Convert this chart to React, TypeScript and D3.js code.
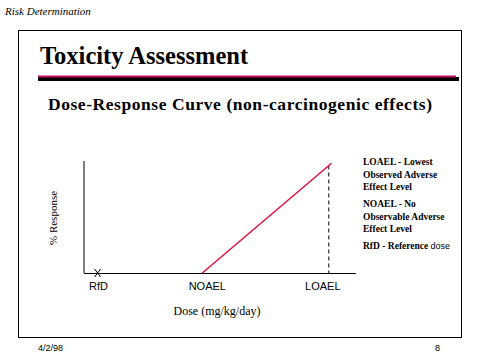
import React, { useEffect, useRef } from 'react';
import * as d3 from 'd3';

// dose markers on the x axis (arbitrary dose units)
const markerNames = ['RfD', 'NOAEL', 'LOAEL'];
const markerDoses = [0.5, 4.35, 9.0];

// dose-response line: dose and % response
const curveDoses = [4.35, 9.1];
const curveResponses = [0, 98];

const legendLines = [
  'LOAEL - Lowest',
  'Observed Adverse',
  'Effect Level',
  'NOAEL - No',
  'Observable Adverse',
  'Effect Level',
];

const W = 480;
const H = 360;

const App: React.FC = () => {
  const svgRef = useRef<SVGSVGElement | null>(null);

  useEffect(() => {
    const svg = d3.select(svgRef.current);
    svg.selectAll('*').remove();

    const serif = '"Liberation Serif", "Times New Roman", serif';
    const sans = '"Liberation Sans", Arial, sans-serif';

    svg.append('rect').attr('width', W).attr('height', H).attr('fill', '#fff');

    svg
      .append('text')
      .attr('x', 5)
      .attr('y', 15)
      .attr('font-family', serif)
      .attr('font-style', 'italic')
      .attr('font-size', 11)
      .text('Risk Determination');

    // slide frame
    svg
      .append('rect')
      .attr('x', 18.5)
      .attr('y', 30.5)
      .attr('width', 443)
      .attr('height', 307)
      .attr('fill', 'none')
      .attr('stroke', '#000')
      .attr('stroke-width', 1);

    svg
      .append('text')
      .attr('x', 40)
      .attr('y', 64)
      .attr('font-family', serif)
      .attr('font-weight', 'bold')
      .attr('font-size', 24.5)
      .text('Toxicity Assessment');

    svg.append('rect').attr('x', 38).attr('y', 77).attr('width', 421).attr('height', 4).attr('fill', '#000');
    svg.append('rect').attr('x', 38).attr('y', 75.5).attr('width', 418).attr('height', 2).attr('fill', '#c0105a');

    svg
      .append('text')
      .attr('x', 48)
      .attr('y', 110)
      .attr('font-family', serif)
      .attr('font-weight', 'bold')
      .attr('font-size', 17.5)
      .attr('textLength', 384)
      .attr('lengthAdjust', 'spacing')
      .text('Dose-Response Curve (non-carcinogenic effects)');

    // chart area
    const x = d3.scaleLinear().domain([0, 10]).range([84, 356]);
    const y = d3.scaleLinear().domain([0, 100]).range([273, 161]);

    const g = svg.append('g');

    g.append('line')
      .attr('x1', x(0)).attr('x2', x(0))
      .attr('y1', y(0)).attr('y2', y(100))
      .attr('stroke', '#000');
    g.append('line')
      .attr('x1', x(0)).attr('x2', x(10))
      .attr('y1', y(0) + 0.5).attr('y2', y(0) + 0.5)
      .attr('stroke', '#000');

    // dashed drop at LOAEL
    const loael = markerDoses[2];
    g.append('line')
      .attr('x1', x(loael)).attr('x2', x(loael))
      .attr('y1', y(96)).attr('y2', y(0))
      .attr('stroke', '#000')
      .attr('stroke-dasharray', '4,3');

    const pts = curveDoses.map((d, i) => [d, curveResponses[i]] as [number, number]);
    const line = d3
      .line<[number, number]>()
      .x(d => x(d[0]))
      .y(d => y(d[1]));
    g.append('path')
      .attr('d', line(pts))
      .attr('fill', 'none')
      .attr('stroke', '#e0103a')
      .attr('stroke-width', 1.5);

    // X marker at RfD
    const rx = x(markerDoses[0]);
    const ry = y(0);
    g.append('path')
      .attr('d', `M${rx - 3},${ry - 4}L${rx + 3},${ry + 4}M${rx + 3},${ry - 4}L${rx - 3},${ry + 4}`)
      .attr('stroke', '#000')
      .attr('fill', 'none');

    // label nudges, as in the original slide
    const labelNudge = [1, 5, -6];
    g.selectAll('text.tick')
      .data(markerNames)
      .enter()
      .append('text')
      .attr('class', 'tick')
      .attr('x', (_, i) => x(markerDoses[i]) + labelNudge[i])
      .attr('y', 290)
      .attr('text-anchor', 'middle')
      .attr('font-family', sans)
      .attr('font-size', 11)
      .text(d => d);

    g.append('text')
      .attr('x', 217)
      .attr('y', 315)
      .attr('text-anchor', 'middle')
      .attr('font-family', serif)
      .attr('font-size', 12)
      .text('Dose (mg/kg/day)');

    g.append('text')
      .attr('transform', `translate(57,218) rotate(-90)`)
      .attr('text-anchor', 'middle')
      .attr('font-family', serif)
      .attr('font-size', 11)
      .text('% Response');

    // legend notes
    const legendY = [165, 178, 190, 207, 220, 232];
    svg
      .selectAll('text.legend')
      .data(legendLines)
      .enter()
      .append('text')
      .attr('class', 'legend')
      .attr('x', 363)
      .attr('y', (_, i) => legendY[i])
      .attr('font-family', serif)
      .attr('font-weight', 'bold')
      .attr('font-size', 9.5)
      .text(d => d);

    const rfd = svg
      .append('text')
      .attr('x', 363)
      .attr('y', 249)
      .attr('font-family', serif)
      .attr('font-weight', 'bold')
      .attr('font-size', 9.5);
    rfd.append('tspan').text('RfD - Reference ');
    rfd.append('tspan').attr('font-family', sans).attr('font-weight', 'normal').attr('font-size', 9).text('dose');

    svg
      .append('text')
      .attr('x', 38)
      .attr('y', 351)
      .attr('font-family', sans)
      .attr('font-size', 9)
      .text('4/2/98');
    svg
      .append('text')
      .attr('x', 440)
      .attr('y', 351)
      .attr('text-anchor', 'end')
      .attr('font-family', sans)
      .attr('font-size', 9)
      .text('8');
  }, []);

  return (
    <svg
      ref={svgRef}
      width={W}
      height={H}
      style={{ position: 'absolute', left: 0, top: 0, display: 'block' }}
    />
  );
};

export default App;
